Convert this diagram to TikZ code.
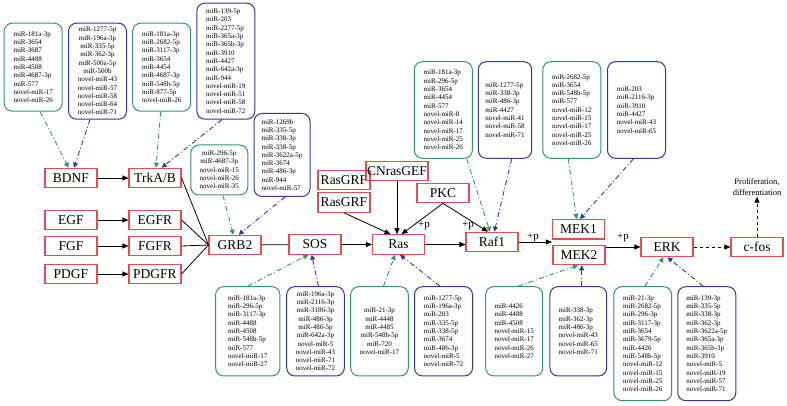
\documentclass[tikz,border=0pt]{standalone}
\usepackage{fontspec}
\setmainfont{Liberation Serif}
\usetikzlibrary{arrows.meta}
\definecolor{gcol}{RGB}{52,150,104}
\definecolor{bcol}{RGB}{48,58,150}
\definecolor{rcol}{RGB}{228,78,82}
\tikzset{
  gene/.style={draw=rcol, line width=1.1pt, minimum width=52pt, minimum height=19.5pt, inner sep=1pt, font=\fontsize{13.5}{15}\selectfont},
  mirbox/.style={rounded corners=8pt, line width=1pt, inner sep=2pt, minimum width=58pt, font=\fontsize{7}{8.3}\selectfont},
  mirg/.style={mirbox, draw=gcol},
  mirb/.style={mirbox, draw=bcol},
  act/.style={-{Triangle[length=6pt,width=5pt]}, line width=0.8pt},
  mirlink/.style={line width=0.9pt, dash pattern=on 5pt off 2.5pt on 1pt off 2.5pt, -{Triangle[length=5pt,width=5pt]}},
  plus/.style={font=\fontsize{11}{12}\selectfont, inner sep=0pt}
}
\begin{document}
\begin{tikzpicture}[x=1pt,y=-1pt]
	\useasboundingbox (0,0) rectangle (787,406);
	% 信号通路
	\node[gene] (BDNF) at (71,178) {BDNF};
	\node[gene] (TrkA) at (155,178) {TrkA/B};
	\node[gene] (EGF) at (71,220) {EGF};
	\node[gene] (EGFR) at (155,220) {EGFR};
	\node[gene] (FGF) at (71,246) {FGF};
	\node[gene] (FGFR) at (155,246) {FGFR};
	\node[gene] (PDGF) at (71,274) {PDGF};
	\node[gene] (PDGFR) at (155,274) {PDGFR};
	\node[gene] (GRB2) at (235,245) {GRB2};
	\node[gene] (SOS) at (315,244.5) {SOS};
	\node[gene] (Ras) at (398.5,244.5) {Ras};
	\node[gene] (RasGRFa) at (344,180) {RasGRF};
	\node[gene] (RasGRFb) at (344,202.5) {RasGRF};
	\node[gene] (CNras) at (397,171) {CNrasGEF};
	\node[gene] (PKC) at (443,193) {PKC};
	\node[gene] (Raf1) at (492,242) {Raf1};
	\node[gene] (MEK1) at (578.5,229.3) {MEK1};
	\node[gene] (MEK2) at (579,255) {MEK2};
	\node[gene] (ERK) at (667,247) {ERK};
	\node[gene] (cfos) at (757,247) {c-fos};
	\node[align=center, inner sep=1pt, font=\fontsize{8.5}{11}\selectfont] (prolif) at (757,187) {Proliferation,\\differentiation};

	\draw[act] (BDNF) -- (TrkA);
	\draw[act] (EGF) -- (EGFR);
	\draw[act] (FGF) -- (FGFR);
	\draw[act] (PDGF) -- (PDGFR);
	\foreach \r in {TrkA,EGFR,FGFR,PDGFR}
		\draw[line width=0.8pt] (\r.east) -- (GRB2.west);
	\draw[line width=0.8pt] (GRB2) -- (SOS);
	\draw[act] (SOS) -- (Ras);
	\draw[act] (Ras.east) -- (Ras.east -| Raf1.west);
	\draw[act] (Raf1.east) -- (Raf1.east -| MEK1.west);
	\draw[act] (MEK2.east |- ERK.west) -- (ERK.west);
	\draw[act, dashed] (ERK) -- (cfos);
	\draw[act, dashed] (cfos) -- (prolif);
	\draw[act] (RasGRFb.south) -- ([xshift=-8pt]Ras.north);
	\draw[act] (CNras.south) -- (CNras.south |- Ras.north);
	\draw[act] (PKC.south) -- ([xshift=3pt]Ras.north);
	\draw[act] (PKC.south) -- ([xshift=-4pt]Raf1.north);
	\node[plus] (p1) at (424,226) {+p};
	\node[plus] (p2) at (468,226) {+p};
	\node[plus] (p3) at (533,238) {+p};
	\node[plus] (p4) at (623,238) {+p};

	% miRNA 上方
	\node[mirg, align=left, minimum height=88pt] (g1) at (33.2,67.2) {miR-181a-3p\\miR-3654\\miR-3687\\miR-4488\\miR-4508\\miR-4687-3p\\miR-577\\novel-miR-17\\novel-miR-26};
	\node[mirb, align=center, minimum height=96pt] (b1) at (97.5,71.2) {miR-1277-5p\\miR-196a-3p\\miR-335-5p\\miR-362-3p\\miR-500a-5p\\miR-500b\\novel-miR-43\\novel-miR-57\\novel-miR-58\\novel-miR-64\\novel-miR-71};
	\node[mirg, align=left, minimum height=88pt] (g2) at (161.7,67.2) {miR-181a-3p\\miR-2682-5p\\miR-3117-3p\\miR-3654\\miR-4454\\miR-4687-3p\\miR-548h-5p\\miR-877-5p\\novel-miR-26};
	\node[mirb, align=left, minimum height=116pt] (b2) at (225.8,61.2) {miR-139-5p\\miR-203\\miR-2277-5p\\miR-365a-3p\\miR-365b-3p\\miR-3910\\miR-4427\\miR-642a-3p\\miR-944\\novel-miR-19\\novel-miR-51\\novel-miR-58\\novel-miR-72};
	\node[mirg, align=center, minimum width=57pt, minimum height=50pt] (g3) at (219.3,170) {miR-296-5p\\miR-4687-3p\\novel-miR-15\\novel-miR-26\\novel-miR-35};
	\node[mirb, align=left, minimum width=56pt, minimum height=83pt] (b3) at (282,155) {miR-1269b\\miR-335-5p\\miR-338-3p\\miR-338-5p\\miR-3622a-5p\\miR-3674\\miR-486-3p\\miR-944\\novel-miR-57};
	\node[mirg, align=left, minimum height=96.6pt] (g4) at (443.3,110) {miR-181a-3p\\miR-296-5p\\miR-3654\\miR-4454\\miR-577\\novel-miR-8\\novel-miR-14\\novel-miR-17\\novel-miR-25\\novel-miR-26};
	\node[mirb, align=left, minimum width=53.4pt, minimum height=96.6pt] (b4) at (505,110) {miR-1277-5p\\miR-338-3p\\miR-486-3p\\miR-4427\\novel-miR-41\\novel-miR-58\\novel-miR-71};
	\node[mirg, align=left, minimum height=96.6pt] (g5) at (571.8,110) {miR-2682-5p\\miR-3654\\miR-548h-5p\\miR-577\\novel-miR-12\\novel-miR-15\\novel-miR-17\\novel-miR-25\\novel-miR-26};
	\node[mirb, align=left, minimum height=96.6pt] (b5) at (636.5,110) {miR-203\\miR-2116-3p\\miR-3910\\miR-4427\\novel-miR-43\\novel-miR-65};

	% miRNA 下方
	\node[mirg, align=left, minimum width=64.3pt, minimum height=89.3pt] (g6) at (247.8,331.3) {miR-181a-3p\\miR-296-5p\\miR-3117-3p\\miR-4488\\miR-4508\\miR-548h-5p\\miR-577\\novel-miR-17\\novel-miR-27};
	\node[mirb, align=center, minimum width=57.6pt, minimum height=89.3pt] (b6) at (315.5,331.3) {miR-196a-3p\\miR-2116-3p\\miR-3186-3p\\miR-486-3p\\miR-486-5p\\miR-642a-3p\\novel-miR-5\\novel-miR-43\\novel-miR-71\\novel-miR-72};
	\node[mirg, align=center, minimum width=57.6pt, minimum height=89.3pt] (g7) at (379.5,331.3) {miR-21-3p\\miR-4448\\miR-4485\\miR-548h-5p\\miR-720\\novel-miR-17};
	\node[mirb, align=left, minimum height=89.3pt] (b7) at (443.5,331.3) {miR-1277-5p\\miR-196a-3p\\miR-203\\miR-335-5p\\miR-338-5p\\miR-3674\\miR-486-3p\\novel-miR-5\\novel-miR-72};
	\node[mirg, align=left, minimum width=57pt, minimum height=89.3pt] (g8) at (514.2,331.3) {miR-4426\\miR-4488\\miR-4508\\novel-miR-15\\novel-miR-17\\novel-miR-26\\novel-miR-27};
	\node[mirb, align=left, minimum width=56.7pt, minimum height=89.3pt] (b8) at (578.3,331.3) {miR-338-3p\\miR-362-3p\\miR-486-3p\\novel-miR-43\\novel-miR-65\\novel-miR-71};
	\node[mirg, align=left, minimum width=57.7pt, minimum height=114pt] (g9) at (642.8,343.7) {miR-21-3p\\miR-2682-5p\\miR-296-3p\\miR-3117-3p\\miR-3654\\miR-3679-5p\\miR-4426\\miR-548h-5p\\novel-miR-12\\novel-miR-15\\novel-miR-25\\novel-miR-26};
	\node[mirb, align=left, minimum height=114pt] (b9) at (706.8,343.7) {miR-139-3p\\miR-335-5p\\miR-338-3p\\miR-362-3p\\miR-3622a-5p\\miR-365a-3p\\miR-365b-3p\\miR-3910\\novel-miR-5\\novel-miR-19\\novel-miR-57\\novel-miR-71};

	% miRNA 连线
	\foreach \m/\a/\g/\b/\c in {g1/7/BDNF/-2.5/gcol, b1/-7.5/BDNF/3/bcol, g2/-1/TrkA/1/gcol, b2/-4/TrkA/6.7/bcol, g3/3.7/GRB2/-1.7/gcol, b3/3/GRB2/3.7/bcol, g4/23.4/Raf1/-2/gcol, b4/6.7/Raf1/2.3/bcol, g5/-3.5/MEK1/-1.8/gcol, b5/-3/MEK1/1.5/bcol}
		\draw[mirlink, \c] ([xshift=\a pt]\m.south) -- ([xshift=\b pt]\g.north);
	\foreach \m/\a/\g/\b/\c in {g6/0/SOS/-6.7/gcol, b6/3/SOS/-3.3/bcol, g7/4/Ras/-3.5/gcol, b7/-3.5/Ras/1.5/bcol, g8/4/MEK2/-1/gcol, b8/3.4/MEK2/2.7/bcol, g9/2/ERK/-3.5/gcol, b9/-3.5/ERK/0.5/bcol}
		\draw[mirlink, \c] ([xshift=\a pt]\m.north) -- ([xshift=\b pt]\g.south);
\end{tikzpicture}
\end{document}
